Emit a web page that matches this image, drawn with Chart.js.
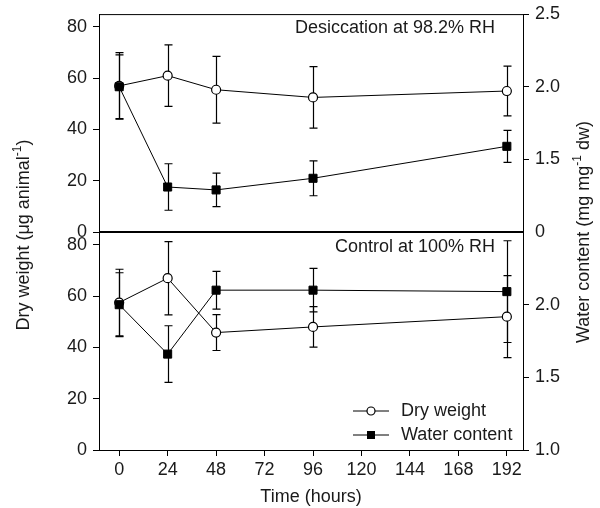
<!DOCTYPE html>
<html>
<head>
<meta charset="utf-8">
<title>Dry weight and water content</title>
<script src="https://cdn.jsdelivr.net/npm/chart.js@4.4.0/dist/chart.umd.min.js"></script>
<style>
    html, body { margin: 0; padding: 0; background: #fff; }
    #wrap { position: relative; width: 600px; height: 508px; }
</style>
</head>
<body>
<div id="wrap"><canvas id="chart"></canvas></div>
<script>
// ==========================================
// DATA
// ==========================================

const hours = [0, 24, 48, 96, 192];

// Desiccation at 98.2% RH
const desDryWeight = [57, 61, 55.5, 52.5, 55];
const desDryError = [13, 12, 13, 12, 9.7];
const desWater = [2.0, 1.31, 1.29, 1.37, 1.59];
const desWaterError = [0.22, 0.16, 0.115, 0.12, 0.11];

// Control at 100% RH
const conDryWeight = [57.5, 67, 45.8, 48, 52];
const conDryError = [13, 14.3, 7, 7.9, 16];
const conWater = [2.0, 1.66, 2.10, 2.10, 2.09];
const conWaterError = [0.22, 0.195, 0.13, 0.15, 0.35];

// Tick values and labels
const hourTicks = [0, 24, 48, 72, 96, 120, 144, 168, 192];
const dryTicks = [0, 20, 40, 60, 80];
const waterTicksTop = [1.0, 1.5, 2.0, 2.5];
const waterLabelsTop = ['0', '1.5', '2.0', '2.5'];
const waterTicksBottom = [1.0, 1.5, 2.0];
const waterLabelsBottom = ['1.0', '1.5', '2.0'];

// ==========================================
// STYLE
// ==========================================

const FONT = '"Liberation Sans", Arial, Helvetica, sans-serif';
const INK = '#1a1a1a';

function points(values) {
    return hours.map((h, i) => ({ x: h, y: values[i] }));
}

function dryDataset(label, values, errors, axis) {
    return {
        label: label,
        data: points(values),
        errors: errors,
        yAxisID: axis,
        order: 2,
        borderColor: '#000',
        borderWidth: 1,
        pointStyle: 'circle',
        pointRadius: 4.5,
        pointBackgroundColor: '#fff',
        pointBorderColor: '#000',
        pointBorderWidth: 1.2,
        tension: 0
    };
}

function waterDataset(label, values, errors, axis) {
    return {
        label: label,
        data: points(values),
        errors: errors,
        yAxisID: axis,
        order: 1,
        borderColor: '#000',
        borderWidth: 1,
        pointStyle: 'rect',
        pointRadius: 5.7,
        pointBackgroundColor: '#000',
        pointBorderColor: '#000',
        pointBorderWidth: 1,
        tension: 0
    };
}

function yAxis(position, stack, min, max, tickValues, tickLabels, width, hideTickAt) {
    return {
        type: 'linear',
        position: position,
        stack: stack,
        stackWeight: 1,
        min: min,
        max: max,
        afterBuildTicks: s => { s.ticks = tickValues.map(v => ({ value: v })); },
        afterFit: s => { s.width = width; },
        grid: {
            drawOnChartArea: false,
            tickLength: 6,
            tickWidth: 1,
            tickColor: c => (c.tick && c.tick.value === hideTickAt) ? 'rgba(0,0,0,0)' : '#000'
        },
        border: { display: true, color: '#000', width: 1 },
        ticks: {
            color: INK,
            padding: 6,
            font: { family: FONT, size: 18, lineHeight: 0.9 },
            callback: v => tickLabels[tickValues.indexOf(v)]
        }
    };
}

// ==========================================
// PLUGINS
// ==========================================

// Error bars drawn through each dataset's own y scale
const errorBars = {
    id: 'errorBars',
    beforeDatasetsDraw(chart) {
        const ctx = chart.ctx;
        ctx.save();
        ctx.strokeStyle = '#000';
        ctx.lineWidth = 1.2;
        chart.data.datasets.forEach((ds, i) => {
            const meta = chart.getDatasetMeta(i);
            const yScale = chart.scales[ds.yAxisID];
            meta.data.forEach((pt, j) => {
                const v = ds.data[j].y;
                const e = ds.errors[j];
                const x = Math.round(pt.x) + 0.5;
                const y1 = yScale.getPixelForValue(v + e);
                const y2 = yScale.getPixelForValue(v - e);
                ctx.beginPath();
                ctx.moveTo(x, y1); ctx.lineTo(x, y2);
                ctx.moveTo(x - 4, y1); ctx.lineTo(x + 4, y1);
                ctx.moveTo(x - 4, y2); ctx.lineTo(x + 4, y2);
                ctx.stroke();
            });
        });
        ctx.restore();
    }
};

function drawRotatedTitle(ctx, parts, x, y) {
    ctx.save();
    ctx.translate(x, y);
    ctx.rotate(-Math.PI / 2);
    ctx.textAlign = 'left';
    ctx.textBaseline = 'middle';
    let total = 0;
    parts.forEach(p => {
        ctx.font = (p.sup ? '12px ' : '18px ') + FONT;
        total += ctx.measureText(p.text).width;
    });
    let cx = -total / 2;
    parts.forEach(p => {
        ctx.font = (p.sup ? '12px ' : '18px ') + FONT;
        ctx.fillText(p.text, cx, p.sup ? -6 : 0);
        cx += ctx.measureText(p.text).width;
    });
    ctx.restore();
}

const decorations = {
    id: 'decorations',
    afterDraw(chart) {
        const { ctx, chartArea } = chart;
        const topPanel = chart.scales.yDesDry;
        const mid = (chartArea.top + chartArea.bottom) / 2;
        ctx.save();

        // frame top and panel divider
        ctx.strokeStyle = '#000';
        ctx.lineWidth = 1;
        ctx.beginPath();
        ctx.moveTo(chartArea.left, chartArea.top + 0.5);
        ctx.lineTo(chartArea.right, chartArea.top + 0.5);
        ctx.stroke();
        ctx.lineWidth = 2;
        ctx.beginPath();
        ctx.moveTo(chartArea.left, topPanel.bottom);
        ctx.lineTo(chartArea.right, topPanel.bottom);
        ctx.stroke();

        // panel labels
        ctx.fillStyle = INK;
        ctx.font = '18px ' + FONT;
        ctx.textAlign = 'right';
        ctx.textBaseline = 'middle';
        ctx.fillText('Desiccation at 98.2% RH', chartArea.right - 28, chartArea.top + 14);
        ctx.fillText('Control at 100% RH', chartArea.right - 28, topPanel.bottom + 15);

        // legend
        const lx = chartArea.right - 170;
        const rows = [chartArea.bottom - 39, chartArea.bottom - 15];
        ctx.lineWidth = 1;
        rows.forEach((ry, k) => {
            ctx.beginPath();
            ctx.moveTo(lx, ry);
            ctx.lineTo(lx + 36, ry);
            ctx.stroke();
            if (k === 0) {
                ctx.beginPath();
                ctx.arc(lx + 18, ry, 4, 0, Math.PI * 2);
                ctx.fillStyle = '#fff';
                ctx.fill();
                ctx.lineWidth = 1.2;
                ctx.stroke();
                ctx.lineWidth = 1;
            } else {
                ctx.fillStyle = '#000';
                ctx.fillRect(lx + 14, ry - 4, 8, 8);
            }
        });
        ctx.fillStyle = INK;
        ctx.textAlign = 'left';
        ctx.fillText('Dry weight', lx + 48, rows[0]);
        ctx.fillText('Water content', lx + 48, rows[1]);

        // y axis titles
        drawRotatedTitle(ctx, [
            { text: 'Dry weight (\u03bcg animal' },
            { text: '-1', sup: true },
            { text: ')' }
        ], 24, mid + 3);
        drawRotatedTitle(ctx, [
            { text: 'Water content (mg mg' },
            { text: '-1', sup: true },
            { text: ' dw)' }
        ], 584, mid);

        ctx.restore();
    }
};

// ==========================================
// CHART
// ==========================================

function initChart() {
    const canvas = document.getElementById('chart');

    new Chart(canvas, {
        type: 'line',
        data: {
            datasets: [
                dryDataset('Dry weight (desiccation)', desDryWeight, desDryError, 'yDesDry'),
                waterDataset('Water content (desiccation)', desWater, desWaterError, 'yDesWater'),
                dryDataset('Dry weight (control)', conDryWeight, conDryError, 'yConDry'),
                waterDataset('Water content (control)', conWater, conWaterError, 'yConWater')
            ]
        },
        options: {
            responsive: true,
            maintainAspectRatio: false,
            animation: false,
            layout: { autoPadding: false, padding: { top: 13, left: 0, right: 0, bottom: 0 } },
            plugins: {
                legend: { display: false },
                tooltip: { enabled: false }
            },
            scales: {
                x: {
                    type: 'linear',
                    min: -10,
                    max: 200,
                    afterBuildTicks: s => { s.ticks = hourTicks.map(v => ({ value: v })); },
                    afterFit: s => { s.height = 58; },
                    grid: { drawOnChartArea: false, tickLength: 6, tickColor: '#000' },
                    border: { display: true, color: '#000', width: 1 },
                    ticks: {
                        color: INK,
                        padding: 3,
                        maxRotation: 0,
                        font: { family: FONT, size: 18 }
                    },
                    title: {
                        display: true,
                        text: 'Time (hours)',
                        color: INK,
                        padding: { top: 4, bottom: 0 },
                        font: { family: FONT, size: 18 }
                    }
                },
                yConDry: yAxis('left', 'left', 0, 85, dryTicks, dryTicks.map(String), 99, null),
                yDesWater: yAxis('right', 'right', 1.0, 2.5, waterTicksTop, waterLabelsTop, 77, 1.0),
                yDesDry: yAxis('left', 'left', 0, 85, dryTicks, dryTicks.map(String), 99, null),
                yConWater: yAxis('right', 'right', 1.0, 2.5, waterTicksBottom, waterLabelsBottom, 77, null)
            }
        },
        plugins: [errorBars, decorations]
    });
}

document.addEventListener('DOMContentLoaded', initChart);
</script>
</body>
</html>
